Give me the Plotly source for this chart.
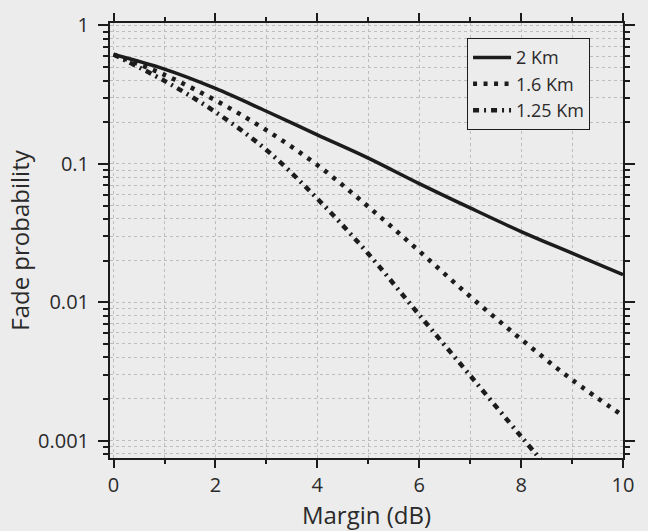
import plotly.graph_objects as go

margin_db = [0, 1, 2, 3, 4, 5, 6, 7, 8, 9, 10]
fade_2km = [0.617, 0.484, 0.351, 0.240, 0.162, 0.110, 0.072, 0.048, 0.0324, 0.0226, 0.0158]
fade_16km = [0.617, 0.440, 0.288, 0.175, 0.098, 0.049, 0.0234, 0.011, 0.0054, 0.00275, 0.00151]
margin_125 = [0, 1, 2, 3, 4, 5, 6, 7, 8, 8.5]
fade_125km = [0.617, 0.398, 0.237, 0.126, 0.056, 0.0224, 0.0081, 0.00295, 0.00107, 0.00065]
series_names = ["2 Km", "1.6 Km", "1.25 Km"]

ink = "#1c1c1c"
bg = "#ececec"
font = "Open Sans, DejaVu Sans, sans-serif"

fig = go.Figure()
fig.add_trace(go.Scatter(x=margin_db, y=fade_2km, mode="lines", name=series_names[0],
                         line=dict(color=ink, width=3.5, shape="spline")))
fig.add_trace(go.Scatter(x=margin_db, y=fade_16km, mode="lines", name=series_names[1],
                         line=dict(color=ink, width=4.5, dash="4px,6.5px", shape="spline")))
fig.add_trace(go.Scatter(x=margin_125, y=fade_125km, mode="lines", name=series_names[2],
                         line=dict(color=ink, width=4.5, dash="6px,5px,2px,5px", shape="spline")))

grid_col = "#bdbdbd"
fig.update_layout(
    width=648, height=531,
    margin=dict(l=110, r=25, t=17, b=65),
    paper_bgcolor=bg, plot_bgcolor=bg,
    font=dict(family=font, size=20, color="#2a2a2a"),
    showlegend=True,
    legend=dict(x=0.696, y=0.965, xanchor="left", yanchor="top",
                bgcolor=bg, bordercolor=ink, borderwidth=1,
                font=dict(size=18), tracegroupgap=0, itemwidth=38),
    xaxis=dict(
        range=[-0.07, 10.0], title=dict(text="Margin (dB)", standoff=4),
        tickmode="linear", tick0=0, dtick=2, ticklabelstandoff=0,
        ticks="outside", ticklen=8, tickwidth=1.5, tickcolor=ink,
        showline=True, linecolor=ink, linewidth=2, mirror="ticks",
        showgrid=True, gridcolor=grid_col, griddash="dot", gridwidth=1,
        zeroline=False,
        minor=dict(dtick=1, tick0=0, ticks="outside", ticklen=4, tickcolor=ink,
                   showgrid=True, gridcolor=grid_col, griddash="dot"),
    ),
    yaxis=dict(
        type="log", range=[-3.126, 0.018],
        title=dict(text="Fade probability", standoff=2),
        tickmode="array", tickvals=[0.001, 0.01, 0.1, 1],
        ticktext=["0.001", "0.01", "0.1", "1"], ticklabelstandoff=5,
        ticks="outside", ticklen=10, tickwidth=1.5, tickcolor=ink,
        showline=True, linecolor=ink, linewidth=2, mirror="ticks",
        showgrid=True, gridcolor=grid_col, griddash="dot", gridwidth=1,
        zeroline=False,
        minor=dict(dtick="D1", ticks="outside", ticklen=5, tickcolor=ink,
                   showgrid=True, gridcolor=grid_col, griddash="dot"),
    ),
)

fig.write_html("out.html")
